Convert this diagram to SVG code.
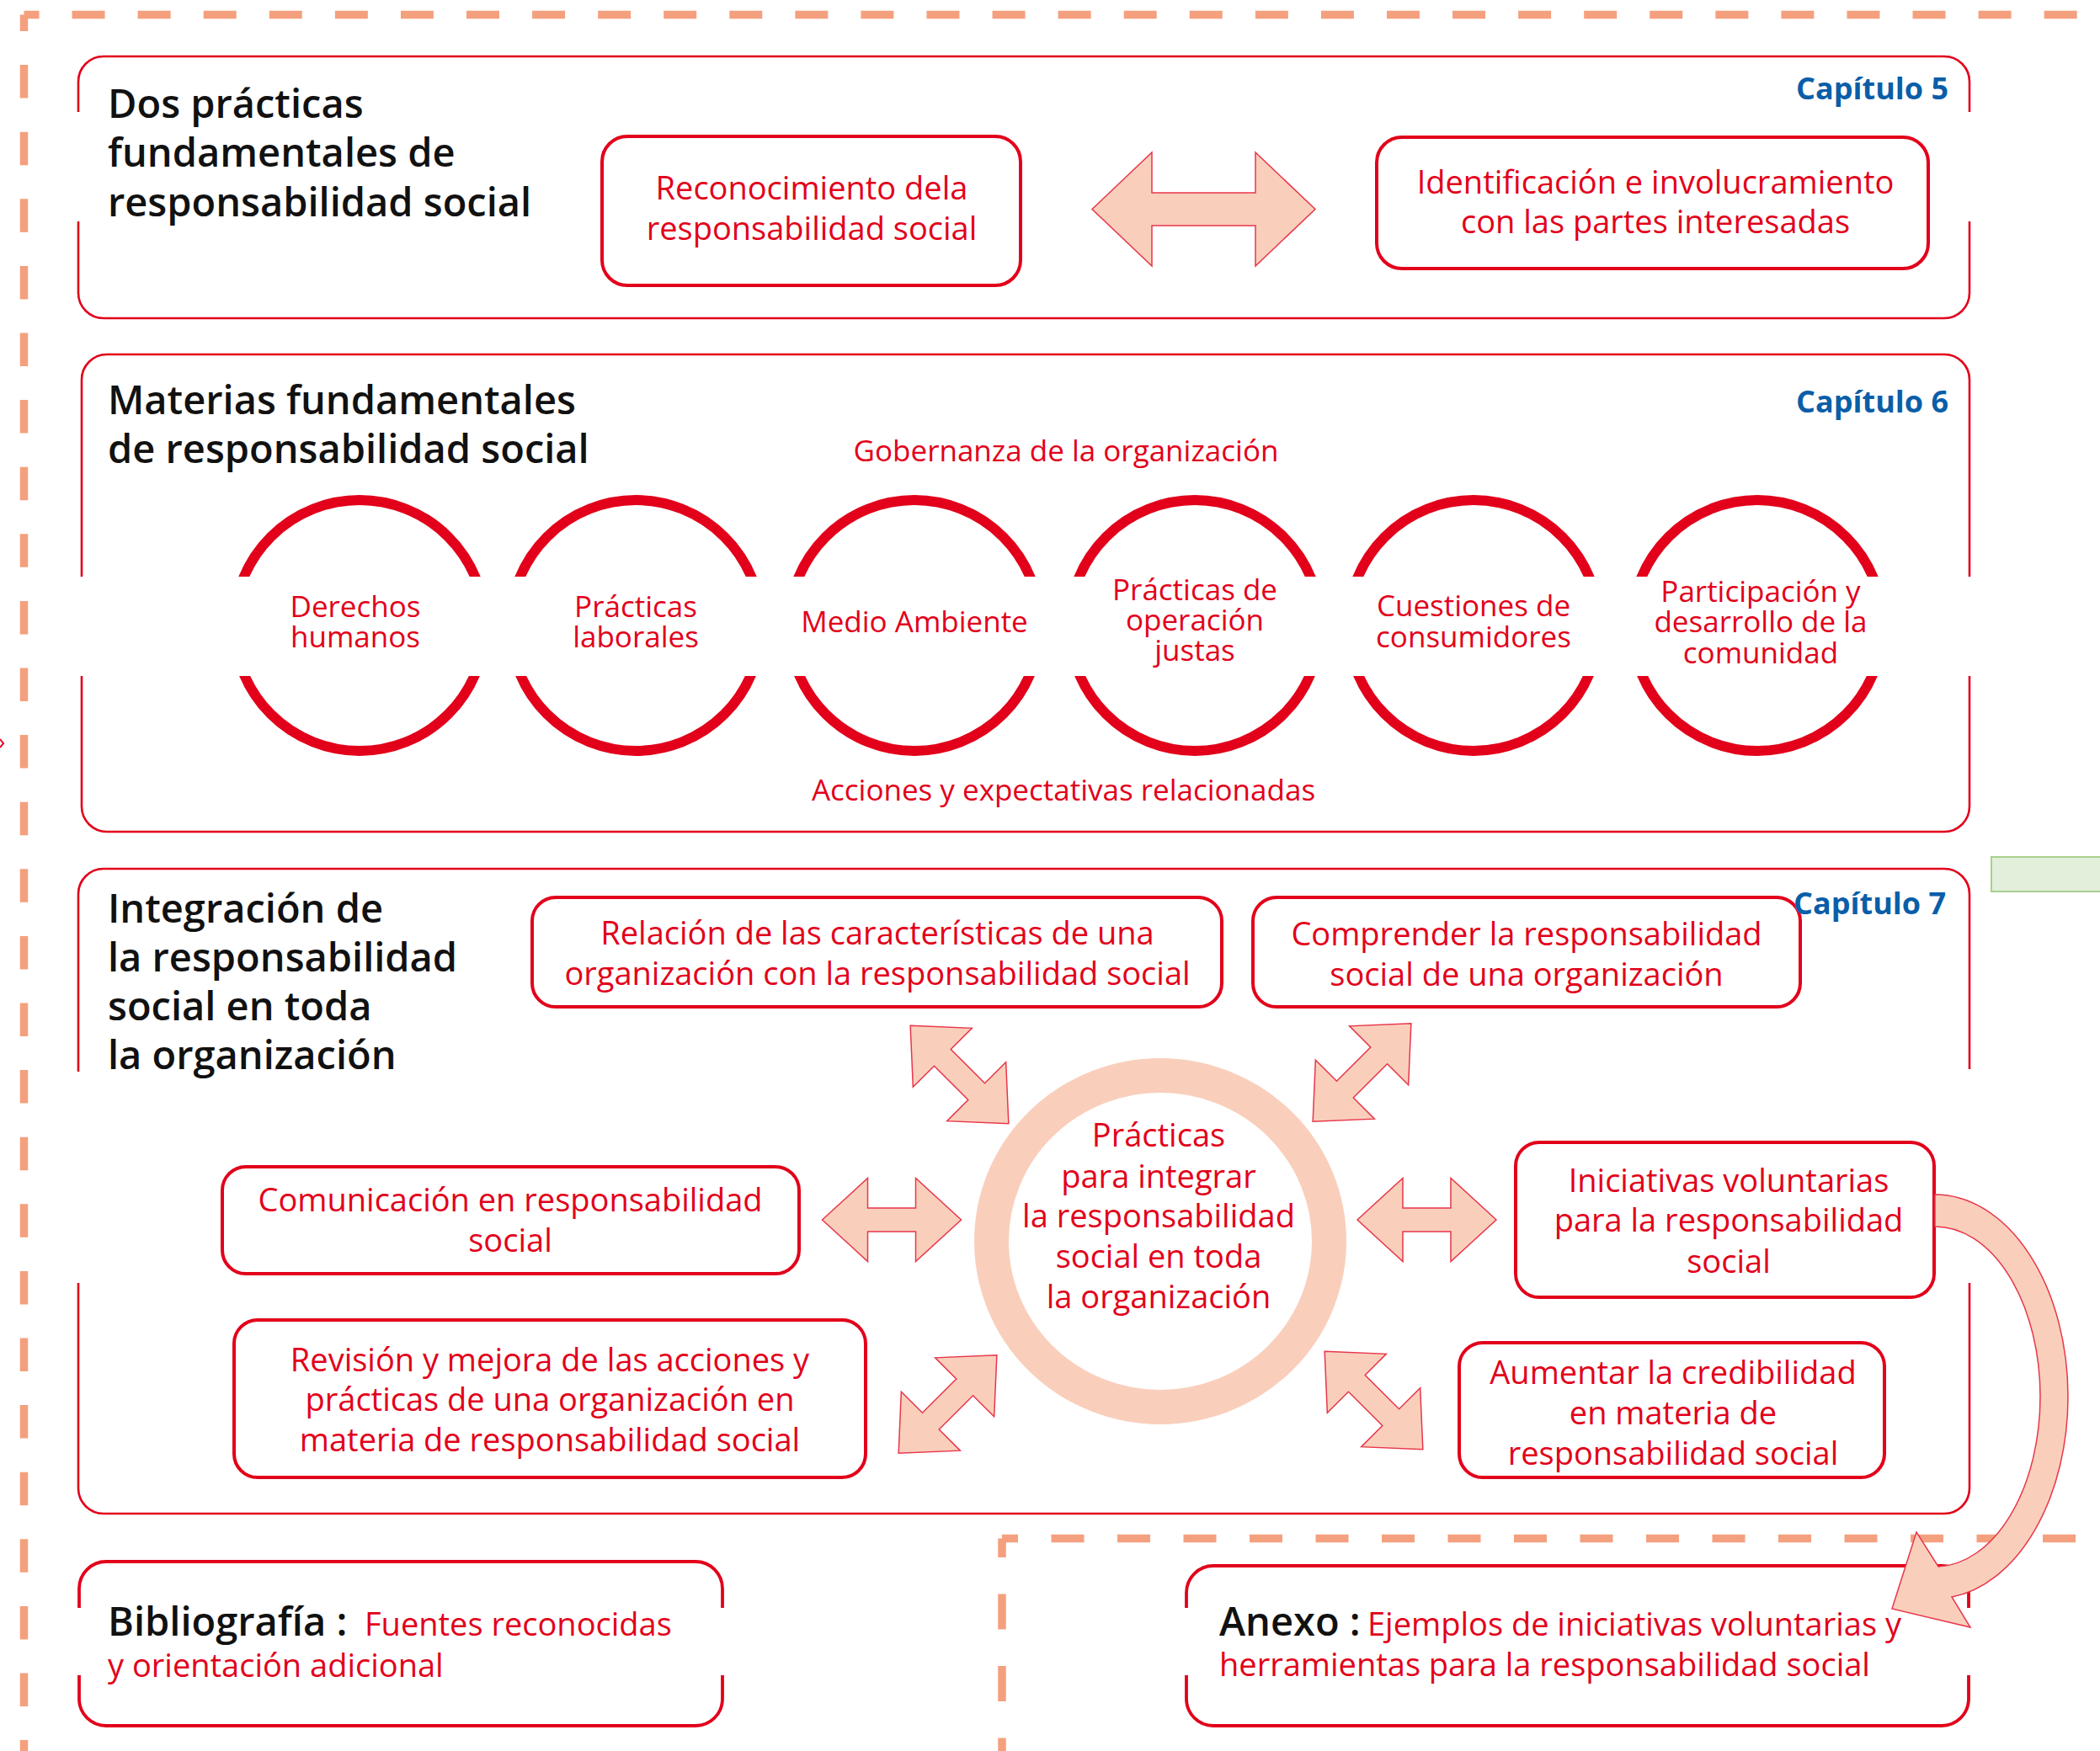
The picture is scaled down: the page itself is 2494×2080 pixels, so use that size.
<svg xmlns="http://www.w3.org/2000/svg" width="2494" height="2080" viewBox="0 0 2494 2080">
<style>
text { font-family: "Open Sans", "Noto Sans", "DejaVu Sans", sans-serif; }
.ttl { font-size: 47px; font-weight: 600; fill: #111; }
.nt { font-size: 38px; fill: #e2001a; text-anchor: middle; }
.st { font-size: 35px; fill: #e2001a; text-anchor: middle; }
.rt { font-size: 38px; fill: #e2001a; }
.cap { font-size: 36px; font-weight: 700; fill: #0a5ea8; text-anchor: end; }
.box { fill: none; stroke: #e2001a; stroke-width: 2.6; }
.bbox { fill: none; stroke: #e2001a; stroke-width: 3.8; }
.node { fill: #fff; stroke: #e2001a; stroke-width: 4; }
.arrow { fill: #f9cfbc; stroke: #e8364a; stroke-width: 1.5; }
.dash { fill: none; stroke: #f4a07e; stroke-width: 9.5; }
.ring { fill: none; stroke: #f9cfbc; stroke-width: 41; }
.circ { fill: none; stroke: #e2001a; stroke-width: 12; }
</style>
<defs>
<path id="bigArrow" d="M -132.5 0 L -61.5 -67.5 L -61.5 -19.5 L 61.5 -19.5 L 61.5 -67.5 L 132.5 0 L 61.5 67.5 L 61.5 19.5 L -61.5 19.5 L -61.5 67.5 Z"/>
<path id="smArrow" d="M -82.5 0 L -28.5 -49.5 L -28.5 -14 L 28.5 -14 L 28.5 -49.5 L 82.5 0 L 28.5 49.5 L 28.5 14 L -28.5 14 L -28.5 49.5 Z"/>
<clipPath id="band">
<rect x="0" y="0" width="2494" height="685"/>
<rect x="0" y="803" width="2494" height="400"/>
</clipPath>
</defs>

<g id="frames">
<path class="dash" d="M 28.5 17.5 H 2494" stroke-dasharray="39 39.07" stroke-dashoffset="21"/>
<path class="dash" d="M 28.5 17.5 V 2080" stroke-dasharray="39.5 40.1" stroke-dashoffset="20"/>
<path class="dash" d="M 1190 1827.5 H 2494" stroke-dasharray="39 39.5" stroke-dashoffset="20"/>
<path class="dash" d="M 1190 1827.5 V 2080" stroke-dasharray="42 43.5" stroke-dashoffset="19.5"/>
<path d="M 0 878 L 4 883 L 0 888" fill="none" stroke="#e2001a" stroke-width="2"/>
<rect x="2365" y="1018" width="140" height="41" fill="#e2efda" stroke="#a8d08d" stroke-width="2"/>
</g>

<g id="section-cap5">
<path class="box" d="M 93 133 V 97 A 30 30 0 0 1 123 67 H 2309 A 30 30 0 0 1 2339 97 V 133"/>
<path class="box" d="M 93 263 V 348 A 30 30 0 0 0 123 378 H 2309 A 30 30 0 0 0 2339 348 V 263"/>
<text class="ttl"><tspan x="128" y="140">Dos prácticas</tspan><tspan x="128" y="198">fundamentales de</tspan><tspan x="128" y="257">responsabilidad social</tspan></text>
<text class="cap" x="2314" y="118">Capítulo 5</text>
</g>

<g id="node-reconocimiento">
<rect class="node" x="715" y="162" width="497" height="177" rx="30"/>
<text class="nt"><tspan x="964" y="237">Reconocimiento dela</tspan><tspan x="964" y="285">responsabilidad social</tspan></text>
</g>

<g id="node-identificacion">
<rect class="node" x="1635" y="163" width="655" height="156" rx="30"/>
<text class="nt"><tspan x="1966" y="230">Identificación e involucramiento</tspan><tspan x="1966" y="277">con las partes interesadas</tspan></text>
</g>

<g id="section-cap6">
<path class="box" d="M 97 685 V 451 A 30 30 0 0 1 127 421 H 2309 A 30 30 0 0 1 2339 451 V 685"/>
<path class="box" d="M 97 803 V 958 A 30 30 0 0 0 127 988 H 2309 A 30 30 0 0 0 2339 958 V 803"/>
<text class="ttl"><tspan x="128" y="492">Materias fundamentales</tspan><tspan x="128" y="550">de responsabilidad social</tspan></text>
<text class="cap" x="2314" y="490">Capítulo 6</text>
<text class="st" x="1266" y="548">Gobernanza de la organización</text>
<text class="st" x="1263" y="951">Acciones y expectativas relacionadas</text>
</g>

<g id="circles" clip-path="url(#band)">
<circle class="circ" cx="427" cy="743" r="149"/>
<circle class="circ" cx="755" cy="743" r="149"/>
<circle class="circ" cx="1086" cy="743" r="149"/>
<circle class="circ" cx="1419" cy="743" r="149"/>
<circle class="circ" cx="1750" cy="743" r="149"/>
<circle class="circ" cx="2087" cy="743" r="149"/>
</g>
<g id="topic-derechos"><text class="st"><tspan x="422" y="733">Derechos</tspan><tspan x="422" y="769">humanos</tspan></text></g>
<g id="topic-laborales"><text class="st"><tspan x="755" y="733">Prácticas</tspan><tspan x="755" y="769">laborales</tspan></text></g>
<g id="topic-medio"><text class="st" x="1086" y="751">Medio Ambiente</text></g>
<g id="topic-operacion"><text class="st"><tspan x="1419" y="713">Prácticas de</tspan><tspan x="1419" y="749">operación</tspan><tspan x="1419" y="785">justas</tspan></text></g>
<g id="topic-consumidores"><text class="st"><tspan x="1750" y="732">Cuestiones de</tspan><tspan x="1750" y="769">consumidores</tspan></text></g>
<g id="topic-comunidad"><text class="st"><tspan x="2091" y="715">Participación y</tspan><tspan x="2091" y="751">desarrollo de la</tspan><tspan x="2091" y="788">comunidad</tspan></text></g>

<g id="section-cap7">
<path class="box" d="M 93 1273 V 1062 A 30 30 0 0 1 123 1032 H 2309 A 30 30 0 0 1 2339 1062 V 1270"/>
<path class="box" d="M 93 1524 V 1768 A 30 30 0 0 0 123 1798 H 2309 A 30 30 0 0 0 2339 1768 V 1524"/>
<text class="ttl"><tspan x="128" y="1096">Integración de</tspan><tspan x="128" y="1154">la responsabilidad</tspan><tspan x="128" y="1212">social en toda</tspan><tspan x="128" y="1270">la organización</tspan></text>
</g>

<g id="node-relacion">
<rect class="node" x="632" y="1066" width="819" height="130" rx="28"/>
<text class="nt"><tspan x="1042" y="1122">Relación de las características de una</tspan><tspan x="1042" y="1170">organización con la responsabilidad social</tspan></text>
</g>
<g id="node-comprender">
<rect class="node" x="1488" y="1066" width="650" height="130" rx="28"/>
<text class="nt"><tspan x="1813" y="1123">Comprender la responsabilidad</tspan><tspan x="1813" y="1171">social de una organización</tspan></text>
</g>
<text class="cap" x="2311" y="1086">Capítulo 7</text>

<g id="node-comunicacion">
<rect class="node" x="264" y="1386" width="685" height="127" rx="28"/>
<text class="nt"><tspan x="606" y="1439">Comunicación en responsabilidad</tspan><tspan x="606" y="1487">social</tspan></text>
</g>
<g id="node-revision">
<rect class="node" x="278" y="1568" width="750" height="187" rx="28"/>
<text class="nt"><tspan x="653" y="1629">Revisión y mejora de las acciones y</tspan><tspan x="653" y="1676">prácticas de una organización en</tspan><tspan x="653" y="1724">materia de responsabilidad social</tspan></text>
</g>
<g id="node-iniciativas">
<rect class="node" x="1800" y="1357" width="497" height="184" rx="28"/>
<text class="nt"><tspan x="2053" y="1416">Iniciativas voluntarias</tspan><tspan x="2053" y="1463">para la responsabilidad</tspan><tspan x="2053" y="1512">social</tspan></text>
</g>
<g id="node-aumentar">
<rect class="node" x="1733" y="1595" width="505" height="160" rx="28"/>
<text class="nt"><tspan x="1987" y="1644">Aumentar la credibilidad</tspan><tspan x="1987" y="1692">en materia de</tspan><tspan x="1987" y="1740">responsabilidad social</tspan></text>
</g>

<g id="node-practicas">
<ellipse class="ring" cx="1378" cy="1474.5" rx="200.5" ry="197"/>
<text class="nt"><tspan x="1376" y="1362">Prácticas</tspan><tspan x="1376" y="1411">para integrar</tspan><tspan x="1376" y="1458">la responsabilidad</tspan><tspan x="1376" y="1506">social en toda</tspan><tspan x="1376" y="1554">la organización</tspan></text>
</g>

<g id="node-bibliografia">
<path class="bbox" d="M 94 1910 V 1887 A 32 32 0 0 1 126 1855 H 826 A 32 32 0 0 1 858 1887 V 1910"/>
<path class="bbox" d="M 94 1990 V 2018 A 32 32 0 0 0 126 2050 H 826 A 32 32 0 0 0 858 2018 V 1990"/>
<text class="ttl" x="128" y="1943">Bibliografía :</text>
<text class="rt" x="433" y="1943">Fuentes reconocidas</text>
<text class="rt" x="128" y="1992">y orientación adicional</text>
</g>

<g id="node-anexo">
<path class="bbox" d="M 1409 1910 V 1892 A 32 32 0 0 1 1441 1860 H 2306 A 32 32 0 0 1 2338 1892 V 1910"/>
<path class="bbox" d="M 1409 1990 V 2018 A 32 32 0 0 0 1441 2050 H 2306 A 32 32 0 0 0 2338 2018 V 1990"/>
<text class="ttl" x="1448" y="1943">Anexo :</text>
<text class="rt" x="1624" y="1943">Ejemplos de iniciativas voluntarias y</text>
<text class="rt" x="1448" y="1991">herramientas para la responsabilidad social</text>
</g>

<g id="connectors">
<use href="#bigArrow" class="arrow" transform="translate(1429.5 248.5)"/>
<use href="#smArrow" class="arrow" transform="translate(1139.5 1276.5) rotate(45)"/>
<use href="#smArrow" class="arrow" transform="translate(1617.5 1274) rotate(-45)"/>
<use href="#smArrow" class="arrow" transform="translate(1059 1449)"/>
<use href="#smArrow" class="arrow" transform="translate(1694.5 1449)"/>
<use href="#smArrow" class="arrow" transform="translate(1125.5 1668) rotate(-45)"/>
<use href="#smArrow" class="arrow" transform="translate(1631.5 1663.5) rotate(45)"/>
<path class="arrow" d="M 2298 1419 A 158 240 0 0 1 2456 1659 A 158 240 0 0 1 2318 1897 L 2340 1933 L 2247 1911 L 2276 1820 L 2302 1861 A 125 202 0 0 0 2423 1659 A 125 202 0 0 0 2298 1457 Z"/>
</g>
</svg>
